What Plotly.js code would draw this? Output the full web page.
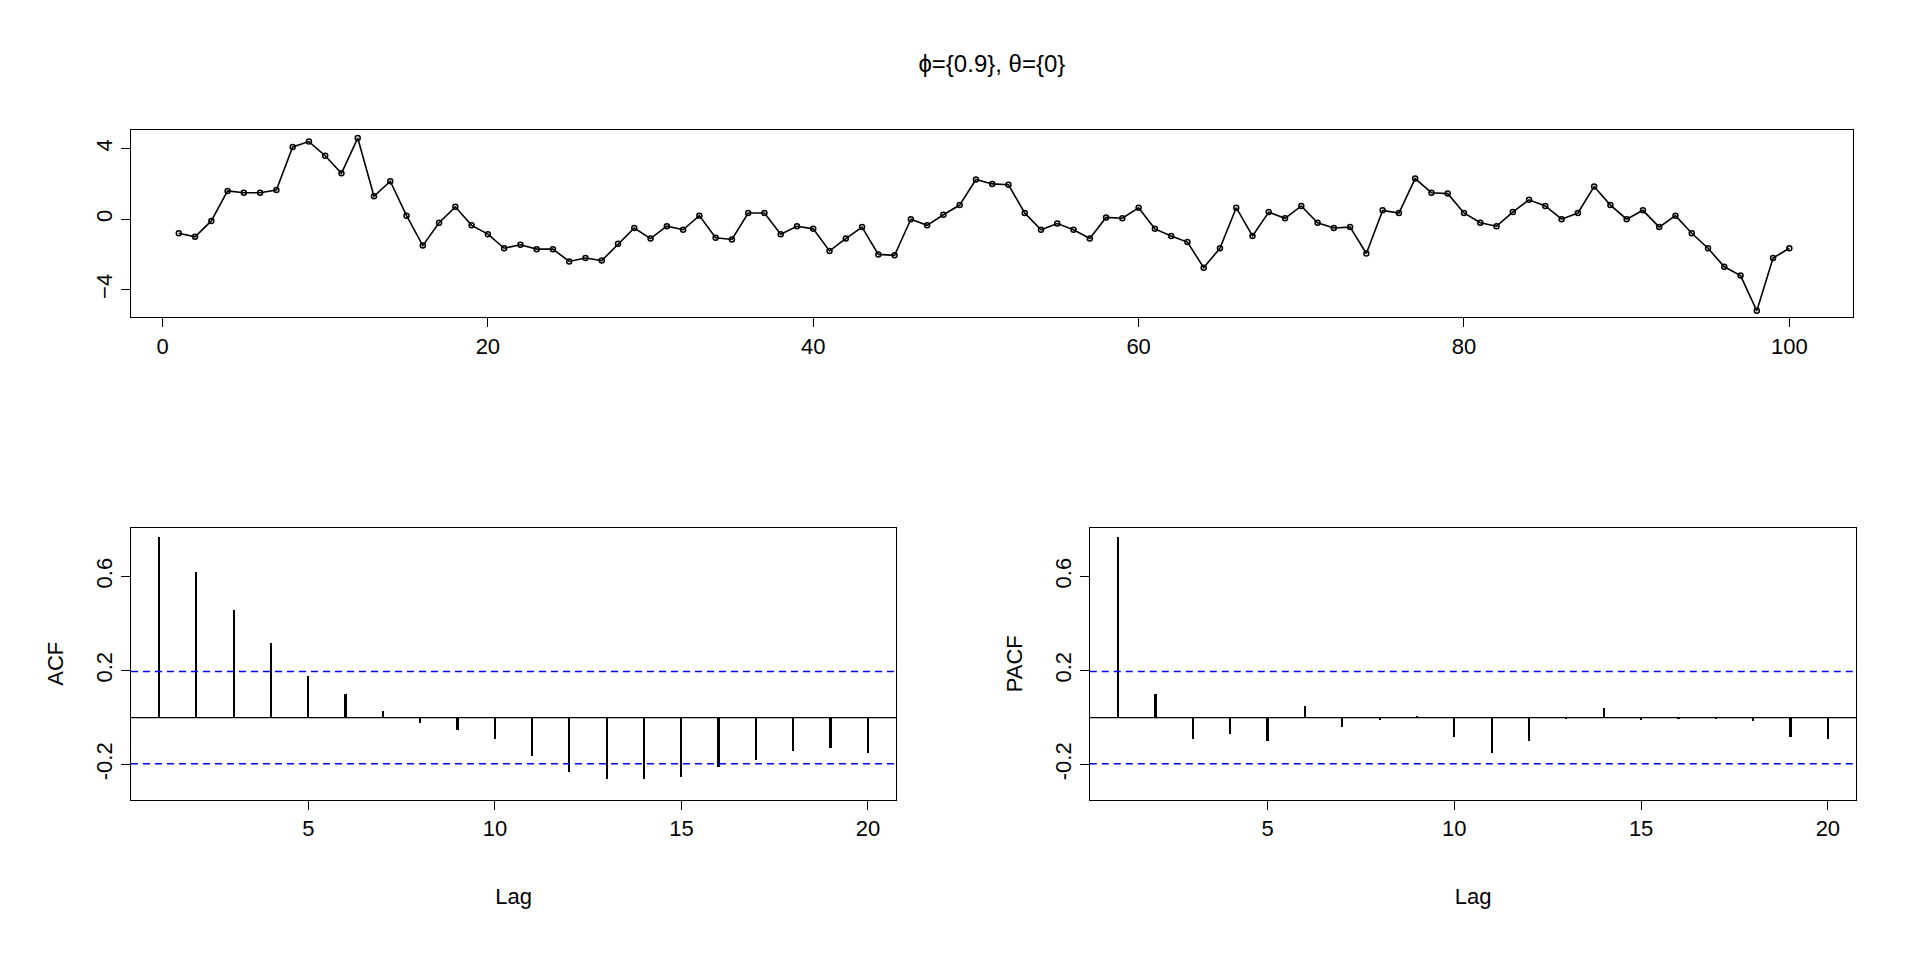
<!DOCTYPE html>
<html>
<head>
<meta charset="utf-8">
<script src="https://cdn.plot.ly/plotly-3.0.1.min.js"></script>
<style>body{margin:0;background:#fff}#chart{width:1920px;height:960px}</style>
</head>
<body>
<div id="chart"></div>
<script>
// series and correlations
const seriesValues = [
  -0.8, -1.0, -0.1, 1.6, 1.5, 1.5, 1.65, 4.1, 4.4, 3.6,
  2.6, 4.6, 1.3, 2.15, 0.2, -1.5, -0.2, 0.7, -0.35, -0.85,
  -1.65, -1.45, -1.7, -1.7, -2.4, -2.2, -2.35, -1.4, -0.5, -1.1,
  -0.4, -0.6, 0.2, -1.05, -1.15, 0.35, 0.35, -0.85, -0.4, -0.55,
  -1.8, -1.1, -0.45, -2.0, -2.05, 0.0, -0.35, 0.25, 0.8, 2.25,
  2.0, 1.95, 0.35, -0.6, -0.25, -0.6, -1.1, 0.1, 0.05, 0.65,
  -0.55, -0.95, -1.3, -2.75, -1.65, 0.65, -0.95, 0.4, 0.05, 0.75,
  -0.2, -0.5, -0.45, -1.95, 0.5, 0.35, 2.3, 1.5, 1.45, 0.35,
  -0.2, -0.4, 0.4, 1.1, 0.75, 0.0, 0.35, 1.85, 0.8, 0.0,
  0.5, -0.45, 0.2, -0.8, -1.65, -2.7, -3.2, -5.2, -2.2, -1.65
]
const timeIndex = seriesValues.map((v, i) => i + 1)
const lags = Array.from({length: 20}, (v, i) => i + 1)
const acfValues = [0.77, 0.62, 0.46, 0.32, 0.18, 0.10, 0.03, -0.02, -0.05, -0.09,
  -0.16, -0.23, -0.26, -0.26, -0.25, -0.21, -0.18, -0.14, -0.13, -0.15]
const pacfValues = [0.77, 0.10, -0.09, -0.07, -0.10, 0.05, -0.04, -0.01, 0.005, -0.08,
  -0.15, -0.10, -0.005, 0.04, -0.01, -0.005, -0.005, -0.015, -0.08, -0.09]
const confLevel = 0.196

const font = {family: 'Liberation Sans, Arial, sans-serif', size: 22, color: '#000'}

function axisBase(extra) {
  return Object.assign({
    showgrid: false, zeroline: false, showline: true, mirror: true,
    linecolor: '#000', linewidth: 1.3, ticks: 'outside', ticklen: 9,
    tickcolor: '#000', tickwidth: 1.3, tickfont: font
  }, extra)
}

const traces = [
  {x: timeIndex, y: seriesValues, type: 'scatter', mode: 'lines+markers',
   line: {color: '#000', width: 1.6},
   marker: {symbol: 'circle-open', size: 5, color: '#000', line: {width: 1.5}},
   xaxis: 'x', yaxis: 'y'},
  {x: lags, y: acfValues, type: 'bar', width: 0.045, marker: {color: '#000'},
   xaxis: 'x2', yaxis: 'y2'},
  {x: lags, y: pacfValues, type: 'bar', width: 0.045, marker: {color: '#000'},
   xaxis: 'x3', yaxis: 'y3'}
]

const corrY = {range: [-0.349, 0.807], tickvals: [-0.2, 0.2, 0.6], ticktext: ['-0.2', '0.2', '0.6'], tickangle: -90}
const lagX = {range: [0.24, 20.76], tickvals: [5, 10, 15, 20], title: {text: 'Lag', font: font, standoff: 48}}

const shapes = []
;[['x2', 'y2'], ['x3', 'y3']].forEach(function (ax) {
  shapes.push({type: 'line', xref: ax[0] + ' domain', yref: ax[1], x0: 0, x1: 1, y0: 0, y1: 0,
    line: {color: '#000', width: 1.3}})
  ;[confLevel, -confLevel].forEach(function (c) {
    shapes.push({type: 'line', xref: ax[0] + ' domain', yref: ax[1], x0: 0, x1: 1, y0: c, y1: c,
      line: {color: '#0000ff', width: 1.6, dash: '7px,5px'}})
  })
})

const layout = {
  width: 1920, height: 960, showlegend: false, bargap: 0,
  paper_bgcolor: '#fff', plot_bgcolor: '#fff', font: font,
  margin: {l: 0, r: 0, t: 0, b: 0},
  title: {text: 'ϕ={0.9}, θ={0}', font: {family: font.family, size: 24, color: '#000'},
    x: 0.5166, xanchor: 'center', y: 0.934, yanchor: 'middle'},
  xaxis: axisBase({domain: [0.0682, 0.965], anchor: 'y', range: [-1.94, 103.9], tickvals: [0, 20, 40, 60, 80, 100]}),
  yaxis: axisBase({domain: [0.6696, 0.8648], anchor: 'x', range: [-5.56, 5.07], tickvals: [-4, 0, 4], tickangle: -90}),
  xaxis2: axisBase(Object.assign({domain: [0.0682, 0.4668], anchor: 'y2'}, lagX)),
  yaxis2: axisBase(Object.assign({domain: [0.167, 0.4503], anchor: 'x2', title: {text: 'ACF', font: font, standoff: 22}}, corrY)),
  xaxis3: axisBase(Object.assign({domain: [0.5676, 0.9668], anchor: 'y3'}, lagX)),
  yaxis3: axisBase(Object.assign({domain: [0.167, 0.4503], anchor: 'x3', title: {text: 'PACF', font: font, standoff: 22}}, corrY)),
  shapes: shapes
}

Plotly.newPlot('chart', traces, layout, {displayModeBar: false})
</script>
</body>
</html>
